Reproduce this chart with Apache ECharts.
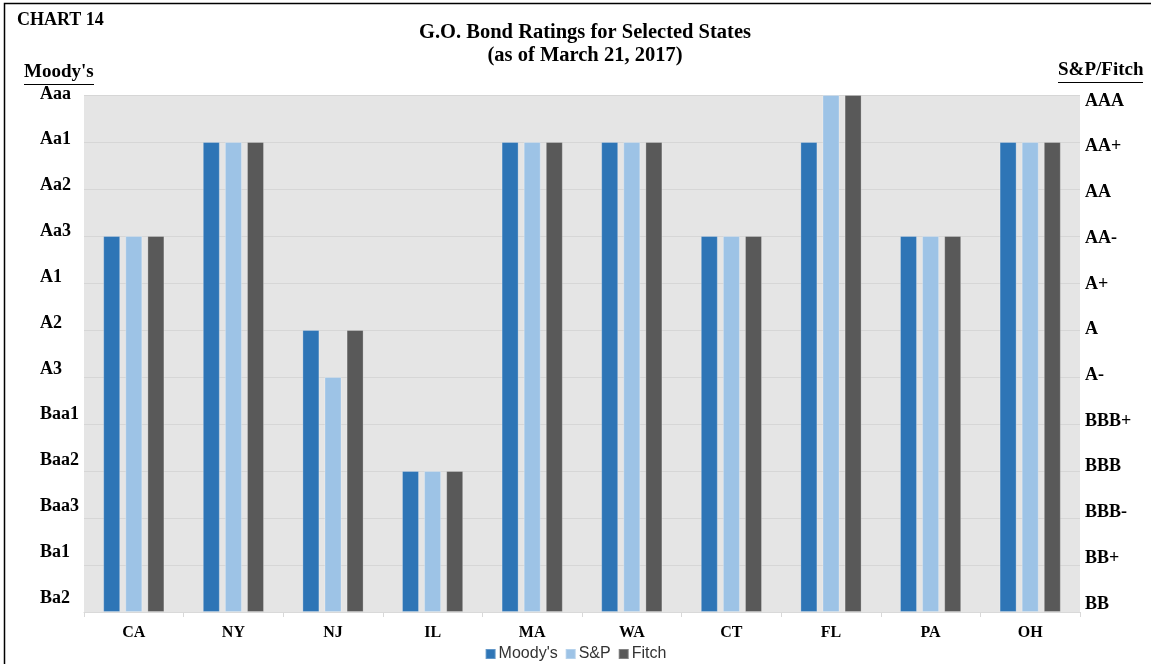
<!DOCTYPE html>
<html>
<head>
<meta charset="utf-8">
<script src="https://cdn.jsdelivr.net/npm/echarts@6/dist/echarts.min.js"></script>
<style>
html,body{margin:0;padding:0;background:#fff;}
#chart{width:1151px;height:664px;}
</style>
</head>
<body>
<div id="chart"></div>
<script>
const categories = ['CA','NY','NJ','IL','MA','WA','CT','FL','PA','OH'];
const moodysTicks = ['Ba2','Ba1','Baa3','Baa2','Baa1','A3','A2','A1','Aa3','Aa2','Aa1','Aaa'];
const spFitchTicks = ['BB','BB+','BBB-','BBB','BBB+','A-','A','A+','AA-','AA','AA+','AAA'];
const moodysRatings = ['Aa3','Aa1','A2','Baa2','Aa1','Aa1','Aa3','Aa1','Aa3','Aa1'];
const spRatings = ['AA-','AA+','A-','BBB','AA+','AA+','AA-','AAA','AA-','AA+'];
const fitchRatings = ['AA-','AA+','A','BBB','AA+','AA+','AA-','AAA','AA-','AA+'];

const moodys = moodysRatings.map(r => moodysTicks.indexOf(r));
const sp = spRatings.map(r => spFitchTicks.indexOf(r));
const fitch = fitchRatings.map(r => spFitchTicks.indexOf(r));

const serif = '"Liberation Serif", "Times New Roman", serif';
const sans = '"Liberation Sans", Arial, sans-serif';

const chart = echarts.init(document.getElementById('chart'));
const barStyle = (c) => ({ color: c, borderColor: 'rgba(255,255,255,0.25)', borderWidth: 1 });

chart.setOption({
  animation: false,
  backgroundColor: '#fff',
  title: {
    text: 'G.O. Bond Ratings for Selected States\n(as of March 21, 2017)',
    left: 580, top: 16, textAlign: 'center',
    textStyle: { fontFamily: serif, fontWeight: 'bold', fontSize: 20.5, lineHeight: 23, color: '#000' }
  },
  legend: {
    data: ["Moody's", 'S&P', 'Fitch'],
    left: 'center', top: 641,
    icon: 'rect', itemWidth: 10, itemHeight: 10, itemGap: 7,
    textStyle: { fontFamily: sans, fontSize: 16, color: '#333', padding: [0,0,0,-2] }
  },
  graphic: [
    { type: 'rect', shape: { x: 4.5, y: 3.5, width: 1170, height: 700 }, style: { fill: 'none', stroke: '#000', lineWidth: 1.5 }, silent: true },
    { type: 'text', left: 17, top: 11, style: { text: 'CHART 14', font: 'bold 18px ' + serif, fill: '#000' } },
    { type: 'text', left: 24, top: 63, style: { text: "Moody's", font: 'bold 19px ' + serif, fill: '#000' } },
    { type: 'line', shape: { x1: 24, y1: 84.5, x2: 94, y2: 84.5 }, style: { stroke: '#000', lineWidth: 1 } },
    { type: 'text', left: 1058, top: 61, style: { text: 'S&P/Fitch', font: 'bold 19px ' + serif, fill: '#000' } },
    { type: 'line', shape: { x1: 1058, y1: 82.5, x2: 1143, y2: 82.5 }, style: { stroke: '#000', lineWidth: 1 } }
  ],
  grid: [
    { left: 84, width: 996, top: 95, height: 517, show: true, backgroundColor: '#E5E5E5', borderWidth: 0 },
    { left: 84, width: 996, top: 94, height: 504 },
    { left: 84, width: 996, top: 101, height: 503 }
  ],
  xAxis: [
    {
      type: 'category', data: categories, gridIndex: 0,
      axisLine: { lineStyle: { color: '#D9D9D9', width: 1 } },
      axisTick: { show: true, length: 5, lineStyle: { color: '#D9D9D9' } },
      axisLabel: { fontFamily: serif, fontWeight: 'bold', fontSize: 16, color: '#000', margin: 13 }
    },
    { type: 'category', data: categories, gridIndex: 1, show: false },
    { type: 'category', data: categories, gridIndex: 2, show: false }
  ],
  yAxis: [
    {
      type: 'value', gridIndex: 0, min: 0, max: 11, interval: 1,
      axisLabel: { show: false }, axisLine: { show: false }, axisTick: { show: false },
      splitLine: { show: true, lineStyle: { color: '#D6D6D6', width: 1 } }
    },
    {
      type: 'value', gridIndex: 1, min: 0, max: 11, interval: 1, position: 'left',
      axisLine: { show: false }, axisTick: { show: false }, splitLine: { show: false },
      axisLabel: { formatter: v => moodysTicks[v], align: 'left', margin: 44, showMinLabel: true, showMaxLabel: true,
        fontFamily: serif, fontWeight: 'bold', fontSize: 18, color: '#000' }
    },
    {
      type: 'value', gridIndex: 2, min: 0, max: 11, interval: 1, position: 'right',
      axisLine: { show: false }, axisTick: { show: false }, splitLine: { show: false },
      axisLabel: { formatter: v => spFitchTicks[v], align: 'left', margin: 5, showMinLabel: true, showMaxLabel: true,
        fontFamily: serif, fontWeight: 'bold', fontSize: 18, color: '#000' }
    }
  ],
  series: [
    { name: "Moody's", type: 'bar', data: moodys, xAxisIndex: 0, yAxisIndex: 0, barWidth: 17, barGap: '30%', itemStyle: barStyle('#2E75B6') },
    { name: 'S&P', type: 'bar', data: sp, xAxisIndex: 0, yAxisIndex: 0, barWidth: 17, barGap: '30%', itemStyle: barStyle('#9DC3E6') },
    { name: 'Fitch', type: 'bar', data: fitch, xAxisIndex: 0, yAxisIndex: 0, barWidth: 17, barGap: '30%', itemStyle: barStyle('#595959') }
  ]
});
</script>
</body>
</html>
